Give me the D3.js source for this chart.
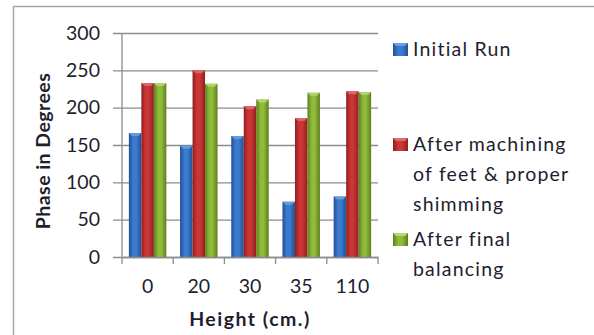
<!DOCTYPE html>
<html>
<head>
<meta charset="utf-8">
<script src="https://cdn.jsdelivr.net/npm/d3@7"></script>
<style>
  html, body { margin: 0; padding: 0; background: #fff; }
  svg { display: block; font-family: Lato, "Open Sans", sans-serif; }
</style>
</head>
<body>
<svg id="chart" width="594" height="335"></svg>
<script>
// Phase readings at each measurement height
const heights = ["0", "20", "30", "35", "110"];
const initialRun = [166, 149, 162, 74, 81];
const afterMachining = [233, 250, 202, 186, 222];
const afterBalancing = [233, 232, 211, 220, 221];
const seriesNames = ["Initial Run", "After machining of feet & proper shimming", "After final balancing"];
const legendLines = [["Initial Run"], ["After machining", "of feet & proper", "shimming"], ["After final", "balancing"]];
const yTicks = [0, 50, 100, 150, 200, 250, 300];

const seriesValues = [initialRun, afterMachining, afterBalancing];
const palette = [
  { dark: "#1f4f94", mid: "#3b7bcf", light: "#6a9fe0" },
  { dark: "#8e1f1f", mid: "#cc3535", light: "#e06a6a" },
  { dark: "#5e7d1e", mid: "#8fbb3a", light: "#b5d870" }
];
const textColor = "#1e1e2e";
const fontSize = 19.5;

const svg = d3.select("#chart");
const defs = svg.append("defs");
palette.forEach((c, i) => {
  const g = defs.append("linearGradient").attr("id", "grad" + i)
    .attr("x1", "0%").attr("x2", "100%").attr("y1", "0%").attr("y2", "0%");
  g.append("stop").attr("offset", "0%").attr("stop-color", c.dark);
  g.append("stop").attr("offset", "35%").attr("stop-color", c.mid);
  g.append("stop").attr("offset", "60%").attr("stop-color", c.mid);
  g.append("stop").attr("offset", "100%").attr("stop-color", c.dark);
});

// Outer chart frame (top and left edges)
svg.append("path").attr("d", "M13.5,335 V6.5 H594")
  .attr("fill", "none").attr("stroke", "#a6a6a6").attr("stroke-width", 1.5);

const plot = { left: 122, right: 378, top: 33, bottom: 257 };

const x = d3.scaleBand().domain(heights).range([plot.left, plot.right]).paddingInner(0).paddingOuter(0);
const y = d3.scaleLinear().domain([0, 300]).range([plot.bottom, plot.top]);
const inner = d3.scaleBand().domain(d3.range(3)).range([0, x.bandwidth()]).paddingOuter(0.55).paddingInner(0);

// Gridlines with y ticks
const yAxis = d3.axisLeft(y).tickValues(yTicks).tickSize(-(plot.right - plot.left)).tickSizeOuter(0).tickPadding(22).tickFormat(d3.format("d"));
const gy = svg.append("g").attr("transform", `translate(${plot.left},0)`).call(yAxis);
gy.select(".domain").remove();
gy.selectAll(".tick line").attr("stroke", "#8c8c8c").attr("stroke-width", 1.3).attr("x1", -9);
gy.selectAll(".tick text").attr("font-size", fontSize).attr("fill", textColor).attr("font-family", "Lato, sans-serif");

// Bars
const groups = svg.append("g").selectAll("g").data(heights).join("g")
  .attr("transform", d => `translate(${x(d)},0)`);
groups.each(function(h, ci) {
  const g = d3.select(this);
  seriesValues.forEach((vals, si) => {
    const v = vals[ci];
    const bx = inner(si), bw = inner.bandwidth();
    g.append("rect").attr("x", bx).attr("y", y(v)).attr("width", bw).attr("height", y(0) - y(v))
      .attr("fill", `url(#grad${si})`);
    // bevelled top edge
    g.append("path")
      .attr("d", `M${bx},${y(v)} H${bx + bw} L${bx + bw - 3},${y(v) + 3} H${bx + 3} Z`)
      .attr("fill", palette[si].light).attr("opacity", 0.9);
  });
});

// Axes lines
svg.append("line").attr("x1", plot.left).attr("x2", plot.left).attr("y1", plot.top).attr("y2", plot.bottom)
  .attr("stroke", "#8c8c8c").attr("stroke-width", 1.3);
const xAxis = d3.axisBottom(x).tickSize(0).tickPadding(22);
const gx = svg.append("g").attr("transform", `translate(0,${plot.bottom})`).call(xAxis);
gx.select(".domain").attr("stroke", "#8c8c8c").attr("stroke-width", 1.3);
gx.selectAll(".tick text").attr("font-size", fontSize).attr("fill", textColor).attr("font-family", "Lato, sans-serif");
// Category boundary ticks
const bounds = heights.map(h => x(h)).concat([plot.right]);
svg.append("g").selectAll("line").data(bounds).join("line")
  .attr("x1", d => d).attr("x2", d => d).attr("y1", plot.bottom).attr("y2", plot.bottom + 7)
  .attr("stroke", "#8c8c8c").attr("stroke-width", 1.3);

// Axis titles
svg.append("text").attr("x", 250).attr("y", 326).attr("text-anchor", "middle")
  .attr("font-size", fontSize).attr("font-weight", "bold").attr("fill", textColor)
  .attr("letter-spacing", 1.5).text("Height (cm.)");
svg.append("text").attr("transform", "translate(50,151) rotate(-90)").attr("text-anchor", "middle")
  .attr("font-size", fontSize).attr("font-weight", "bold").attr("fill", textColor)
  .attr("letter-spacing", 0.45).text("Phase in Degrees");

// Legend
const legendBase = [56, 151, 246];
const lineStep = 30;
const lg = svg.append("g");
legendLines.forEach((lines, i) => {
  const c = palette[i];
  const by = legendBase[i];
  lg.append("rect").attr("x", 393).attr("y", by - 13).attr("width", 15).attr("height", 13)
    .attr("fill", `url(#grad${i})`);
  lg.append("path").attr("d", `M393,${by - 13} h15 l-3,3 h-9 z`).attr("fill", c.light);
  const t = lg.append("text").attr("x", 413).attr("y", by).attr("font-size", fontSize)
    .attr("fill", textColor).attr("letter-spacing", 1.2);
  lines.forEach((ln, k) => {
    t.append("tspan").attr("x", 413).attr("y", by + k * lineStep).text(ln);
  });
});
</script>
</body>
</html>
